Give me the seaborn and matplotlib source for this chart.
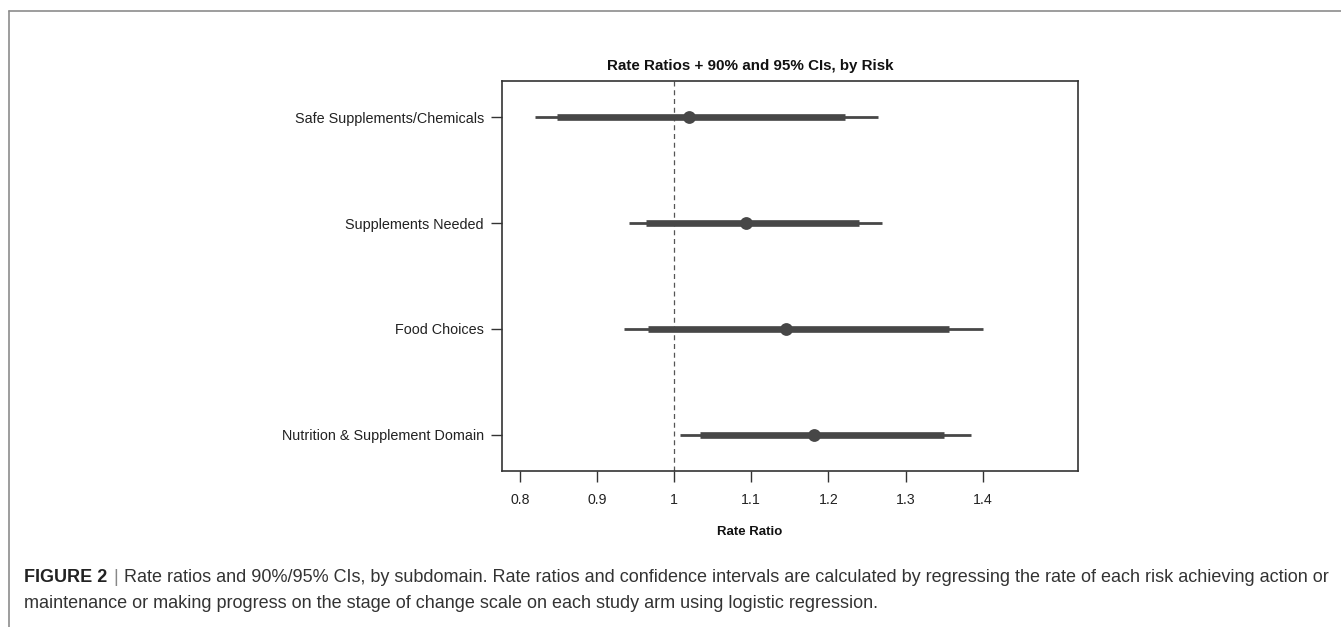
import matplotlib
matplotlib.use('Agg')
import matplotlib.pyplot as plt
import seaborn as sns
import pandas as pd

sns.set_style('white')
plt.rcParams['font.family'] = ['Liberation Sans', 'DejaVu Sans']

# data
risks = ['Safe Supplements/Chemicals', 'Supplements Needed', 'Food Choices',
         'Nutrition & Supplement Domain']
rate_ratio = [1.019, 1.093, 1.145, 1.181]
lo95 = [0.819, 0.942, 0.935, 1.008]
hi95 = [1.264, 1.269, 1.400, 1.385]
lo90 = [0.848, 0.964, 0.966, 1.034]
hi90 = [1.222, 1.239, 1.356, 1.350]
xticks = [0.8, 0.9, 1.0, 1.1, 1.2, 1.3, 1.4]
xtick_labels = ['0.8', '0.9', '1', '1.1', '1.2', '1.3', '1.4']

df = pd.DataFrame({'risk': risks, 'rr': rate_ratio, 'lo95': lo95, 'hi95': hi95,
                   'lo90': lo90, 'hi90': hi90})
df['pos'] = range(1, len(df) + 1)

col = '#474747'

fig = plt.figure(figsize=(13.41, 6.27), dpi=100)
ax = fig.add_axes([0.3743, 0.2488, 0.4296, 0.6220])

ax.axvline(1, color='#555555', linestyle=(0, (4, 3)), linewidth=0.9, zorder=1)
ax.hlines(df['pos'], df['lo95'], df['hi95'], color=col, linewidth=2.0, zorder=2)
ax.hlines(df['pos'], df['lo90'], df['hi90'], color=col, linewidth=4.8, zorder=3)
sns.scatterplot(data=df, x='rr', y='pos', ax=ax, color=col, s=85,
                edgecolor=col, linewidth=0, zorder=4)

ax.set_xlim(0.7767, 1.5236)
ax.set_ylim(4.34, 0.66)
ax.set_xticks(xticks)
ax.set_xticklabels(xtick_labels)
ax.set_yticks(df['pos'])
ax.set_yticklabels(df['risk'])
ax.tick_params(axis='both', direction='out', length=8, width=1.0, color='#333333',
               labelcolor='#222222', left=True, bottom=True)
ax.tick_params(axis='y', labelsize=10.4, pad=5)
ax.tick_params(axis='x', labelsize=10.2, pad=8)
for s in ax.spines.values():
    s.set_color('#333333')
    s.set_linewidth(1.2)
ax.set_xlabel('')
ax.set_ylabel('')

fig.text(0.5593, 0.8947, 'Rate Ratios + 90% and 95% CIs, by Risk', ha='center',
         va='center', fontsize=10.9, fontweight='bold', color='#111111')
fig.text(0.5593, 0.1515, 'Rate Ratio', ha='center', va='center', fontsize=9.5,
         fontweight='bold', color='#111111')

# frame lines at top and left
fig.add_artist(plt.Line2D([8.5 / 1341, 1], [1 - 11 / 627, 1 - 11 / 627],
                          color='#8c8c8c', linewidth=1.2))
fig.add_artist(plt.Line2D([8.5 / 1341, 8.5 / 1341], [0, 1 - 11 / 627],
                          color='#8c8c8c', linewidth=1.2))

# caption
cap_size = 13.0
t1 = fig.text(24 / 1341, 1 - 578 / 627, 'FIGURE 2', fontsize=cap_size,
              fontweight='bold', va='center', color='#222222')
fig.canvas.draw()
bb = t1.get_window_extent()
bar = fig.text((bb.x1 + 6) / 1341, 1 - 578 / 627, '|', fontsize=cap_size,
               va='center', color='#888888')
fig.canvas.draw()
bb2 = bar.get_window_extent()
fig.text((bb2.x1 + 6) / 1341, 1 - 578 / 627,
         'Rate ratios and 90%/95% CIs, by subdomain. Rate ratios and confidence intervals '
         'are calculated by regressing the rate of each risk achieving action or',
         fontsize=cap_size, va='center', color='#333333')
fig.text(24 / 1341, 1 - 603 / 627,
         'maintenance or making progress on the stage of change scale on each study arm '
         'using logistic regression.',
         fontsize=cap_size, va='center', color='#333333')

fig.savefig('out.png', dpi=100)
